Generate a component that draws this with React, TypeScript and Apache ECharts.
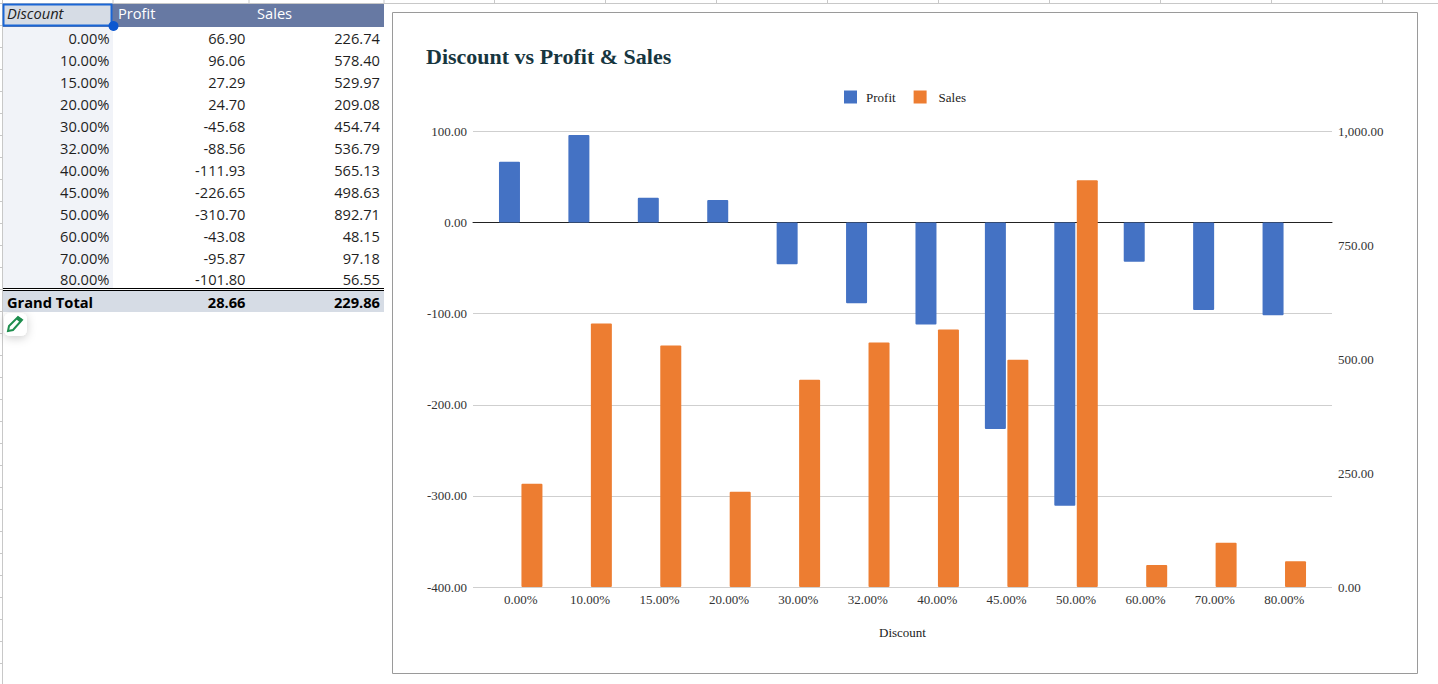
import React, { useEffect, useRef } from "react";
import * as echarts from "echarts";

const categories = ["0.00%", "10.00%", "15.00%", "20.00%", "30.00%", "32.00%", "40.00%", "45.00%", "50.00%", "60.00%", "70.00%", "80.00%"];
const profit = [66.9, 96.06, 27.29, 24.7, -45.68, -88.56, -111.93, -226.65, -310.7, -43.08, -95.87, -101.8];
const sales = [226.74, 578.4, 529.97, 209.08, 454.74, 536.79, 565.13, 498.63, 892.71, 48.15, 97.18, 56.55];
const totalLabel = "Grand Total";
const totalProfit = 28.66;
const totalSales = 229.86;
const title = "Discount vs Profit & Sales";
const columnHeaders = ["Discount", "Profit", "Sales"];

const SERIF = "'Liberation Serif', serif";
const SANS = "'Open Sans', sans-serif";
const fmt = (v: number) => v.toLocaleString("en-US", { minimumFractionDigits: 2, maximumFractionDigits: 2 });

function cell(text: string, x: number, y: number, align: string, extra: any = {}) {
  return {
    type: "text", x, y, silent: true, z: 5,
    style: { text, align, verticalAlign: "middle", font: `14.67px ${SANS}`, fill: "#1f1f1f", ...extra },
  };
}

function sheetGraphics() {
  const out: any[] = [];
  const line = (x1: number, y1: number, x2: number, y2: number, stroke = "#c8c8c8", lineWidth = 1, z = 1) =>
    out.push({ type: "line", silent: true, z, shape: { x1, y1, x2, y2 }, style: { stroke, lineWidth } });
  const rect = (x: number, y: number, width: number, height: number, fill: string, z = 2, extra: any = {}) =>
    out.push({ type: "rect", silent: true, z, shape: { x, y, width, height }, style: { fill, ...extra } });

  // sheet grid remnants
  line(0, 3.5, 1438, 3.5);
  [113, 249, 384, 494.5, 605.5, 716.5, 827.5, 938.5, 1049.5, 1160.5, 1271.5, 1382.5].forEach((x) => line(x, 0, x, 4));
  line(2.5, 0, 2.5, 684);
  for (let y = 25; y < 684; y += 22) line(0, y + 0.5, 3, y + 0.5);

  // table backgrounds
  rect(3, 4, 381, 23, "#6779a3");
  rect(3, 27, 110, 261, "#f1f3f8");
  rect(3, 4, 109, 22, "#d6dce5");
  rect(3, 291, 381, 21, "#d6dce5");
  out.push({ type: "rect", silent: true, z: 3, shape: { x: 3.5, y: 4.5, width: 108, height: 21 }, style: { fill: "none", stroke: "#1a66d6", lineWidth: 2 } });
  out.push({ type: "circle", silent: true, z: 4, shape: { cx: 113.5, cy: 26, r: 5 }, style: { fill: "#0b57d0" } });
  line(3, 288.5, 384, 288.5, "#000", 1, 3);
  line(3, 290.5, 384, 290.5, "#000", 1, 3);

  // header
  out.push(cell(columnHeaders[0], 7, 13, "left", { font: `italic 14.67px ${SANS}`, fill: "#222" }));
  out.push(cell(columnHeaders[1], 118, 13, "left", { fill: "#fff" }));
  out.push(cell(columnHeaders[2], 257, 13, "left", { fill: "#fff" }));

  // rows
  categories.forEach((c, i) => {
    const y = i === 11 ? 279 : 38 + i * 22;
    out.push(cell(c, 109.5, y, "right"));
    out.push(cell(fmt(profit[i]), 245.5, y, "right"));
    out.push(cell(fmt(sales[i]), 380, y, "right"));
  });

  // total
  const bold = { font: `bold 14.67px ${SANS}`, fill: "#000" };
  out.push(cell(totalLabel, 7, 302, "left", bold));
  out.push(cell(fmt(totalProfit), 245.5, 302, "right", bold));
  out.push(cell(fmt(totalSales), 380, 302, "right", bold));

  // edit button
  out.push({
    type: "rect", silent: true, z: 4, shape: { x: 4, y: 313, width: 23, height: 23, r: 6 },
    style: { fill: "#fff", shadowBlur: 10, shadowColor: "rgba(0,0,0,0.2)", shadowOffsetY: 2 },
  });
  out.push({ type: "polygon", silent: true, z: 5, shape: { points: [[8, 331], [9, 326], [18, 317], [22, 320], [13, 330]] }, style: { fill: "#fff", stroke: "#1e8e4e", lineWidth: 2 } });
  out.push({ type: "polygon", silent: true, z: 6, shape: { points: [[16, 319], [18, 316.5], [22, 319], [20, 322.5]] }, style: { fill: "#1e8e4e" } });

  // chart frame
  out.push({ type: "rect", silent: true, z: 1, shape: { x: 392.5, y: 12.5, width: 1025, height: 661 }, style: { fill: "none", stroke: "#9a9a9a", lineWidth: 1 } });
  return out;
}

export default function App() {
  const ref = useRef<HTMLDivElement>(null);
  useEffect(() => {
    document.body.style.margin = "0";
    const chart = echarts.init(ref.current!, undefined, { renderer: "svg" });
    const labelStyle = { color: "#333", fontFamily: SERIF, fontSize: 13 };
    const legendText = { color: "#222", fontFamily: SERIF, fontSize: 13 };
    chart.setOption({
      animation: false,
      backgroundColor: "#fff",
      title: {
        text: title, left: 426, top: 45.5, padding: 0,
        textStyle: { fontFamily: SERIF, fontSize: 22, fontWeight: "bold", color: "#17363f" },
      },
      legend: {
        left: 844, top: 90.5, padding: 0, itemWidth: 13, itemHeight: 13, itemGap: 18,
        icon: "rect",
        data: [
          { name: "Profit", textStyle: { ...legendText, padding: [0, 0, 2, 4] } },
          { name: "Sales", textStyle: { ...legendText, padding: [0, 0, 2, 7] } },
        ],
        textStyle: legendText,
      },
      grid: [
        { left: 473, top: 131.5, width: 859, height: 455.5 },
        { left: 486, top: 131.5, width: 833, height: 455.5 },
      ],
      xAxis: [
        {
          type: "category", gridIndex: 0, data: categories,
          axisLine: { show: true, onZero: true, onZeroAxisIndex: 0, lineStyle: { color: "#222", width: 1 } },
          axisTick: { show: false }, axisLabel: { show: false }, splitLine: { show: false },
        },
        {
          type: "category", gridIndex: 1, data: categories,
          axisLine: { show: false }, axisTick: { show: false },
          axisLabel: { ...labelStyle, margin: 6, interval: 0 },
          name: "Discount", nameLocation: "middle", nameGap: 39,
          nameTextStyle: { color: "#222", fontFamily: SERIF, fontSize: 13 },
        },
      ],
      yAxis: [
        {
          type: "value", gridIndex: 0, position: "left", min: -400, max: 100, interval: 100,
          axisLine: { show: false }, axisTick: { show: false },
          axisLabel: { ...labelStyle, margin: 6, formatter: (v: number) => fmt(v) },
          splitLine: { show: true, lineStyle: { color: "#cfcfcf", width: 1 } },
        },
        {
          type: "value", gridIndex: 0, position: "right", min: 0, max: 1000, interval: 250,
          axisLine: { show: false }, axisTick: { show: false },
          axisLabel: { ...labelStyle, margin: 6, formatter: (v: number) => fmt(v) },
          splitLine: { show: false },
        },
        { type: "value", gridIndex: 1, position: "left", min: -400, max: 100, interval: 100, show: false, splitLine: { show: false } },
        { type: "value", gridIndex: 1, position: "right", min: 0, max: 1000, interval: 250, show: false, splitLine: { show: false } },
      ],
      series: [
        {
          name: "Profit", type: "bar", xAxisIndex: 1, yAxisIndex: 2, data: profit,
          barWidth: 21, barGap: "7%",
          itemStyle: { color: "#4472c4", borderRadius: 1 },
        },
        {
          name: "Sales", type: "bar", xAxisIndex: 1, yAxisIndex: 3, data: sales,
          barWidth: 21, barGap: "7%",
          itemStyle: { color: "#ed7d31", borderRadius: 1 },
        },
      ],
      graphic: sheetGraphics(),
    });
    return () => chart.dispose();
  }, []);
  return <div ref={ref} style={{ position: "absolute", left: 0, top: 0, width: 1438, height: 684 }} />;
}
